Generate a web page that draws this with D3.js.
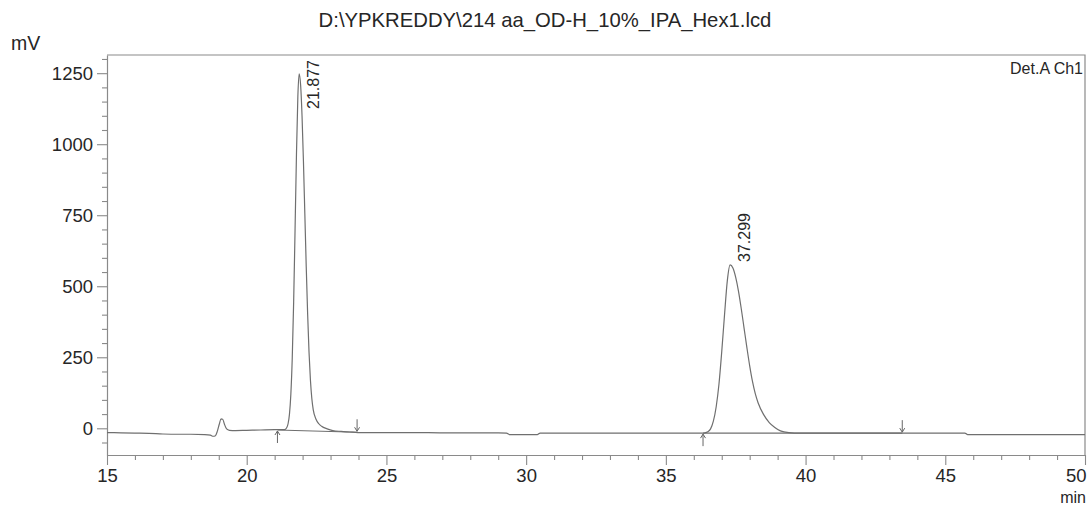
<!DOCTYPE html>
<html>
<head>
<meta charset="utf-8">
<script src="https://cdn.jsdelivr.net/npm/d3@7/dist/d3.min.js"></script>
<style>
  html, body { margin: 0; padding: 0; background: #fff; }
  svg { display: block; font-family: "Liberation Sans", Arial, sans-serif; }
</style>
</head>
<body>
<svg id="chart" width="1088" height="508"></svg>
<script>
// Chromatogram trace: retention time (min) and detector signal (mV)
const timeMin = [
  15.0, 15.5, 16.0, 16.5, 17.0, 17.5, 18.0, 18.5, 18.7, 18.8, 18.88, 18.95,
  19.02, 19.08, 19.14, 19.2, 19.28, 19.38, 19.6, 20.0, 20.5, 21.0, 21.35,
  21.43, 21.48, 21.53, 21.58, 21.63, 21.68, 21.73, 21.78, 21.83, 21.877,
  21.93, 21.98, 22.03, 22.08, 22.13, 22.18, 22.23, 22.28, 22.33, 22.38,
  22.48, 22.58, 22.68, 22.88, 23.08, 23.38, 23.68, 23.98, 24.5, 25.0, 26.0,
  27.0, 28.0, 29.0, 29.3, 29.4, 30.4, 30.5, 31.0, 32.0, 33.0, 34.0, 35.0,
  36.0, 36.3, 36.4, 36.5, 36.6, 36.7, 36.8, 36.9, 37.0, 37.1, 37.2, 37.299,
  37.4, 37.5, 37.6, 37.7, 37.8, 37.9, 38.0, 38.1, 38.2, 38.3, 38.5, 38.7,
  38.9, 39.1, 39.4, 39.8, 41.0, 43.0, 45.0, 45.7, 45.8, 50.0
];
const signalMv = [
  -15, -16, -17, -18, -20, -21, -21, -22, -24, -28, -26, -10,
  15, 33, 32, 15, -2, -7, -8, -7, -6, -5, -5,
  2, 16, 50, 121, 248, 445, 698, 962, 1168, 1248,
  1207, 1099, 940, 755, 569, 403, 268, 170, 105, 66,
  32, 16, 7, -2, -8, -11, -13, -15, -15, -15, -15,
  -16, -16, -16, -17, -22, -22, -17, -17, -17, -17, -17, -17,
  -17, -17, -16, -12, -2, 25, 75, 155, 270, 400, 520, 575,
  564, 531, 482, 420, 352, 284, 220, 165, 122, 90, 48, 20,
  3, -9, -15, -17, -17, -17, -17, -17, -22, -22
];

// Labelled peaks
const peakTimes = [21.877, 37.299];
const peakHeights = [1248, 575];
const peakLabels = ["21.877", "37.299"];

// Integration baselines (start/end time and level) and their event arrows
const baseStartTime = [21.1, 36.33];
const baseStartMv = [-6, -17];
const baseEndTime = [23.95, 43.46];
const baseEndMv = [-14, -17];

// Axis ticks
const xMajorTicks = [15, 20, 25, 30, 35, 40, 45, 50];
const xMinorTicks = d3.range(16, 50, 1).filter(v => v % 5 !== 0);
const yMajorTicks = [0, 250, 500, 750, 1000, 1250];
const yMinorTicks = d3.range(-50, 1301, 50).filter(v => v % 250 !== 0);

const titleText = "D:\\YPKREDDY\\214 aa_OD-H_10%_IPA_Hex1.lcd";
const channelText = "Det.A Ch1";

const svg = d3.select("#chart");
const plotLeft = 107, plotRight = 1085, plotTop = 55, plotBottom = 455;
const frameColor = "#8a8a8a";
const traceColor = "#6f6f6f";
const textColor = "#262626";

const x = d3.scaleLinear().domain([15, 50]).range([plotLeft, plotRight]);
const y = d3.scaleLinear().domain([-94, 1314]).range([plotBottom, plotTop]);

// Frame: top and right edges
svg.append("path")
  .attr("d", `M${plotLeft},${plotTop}H${plotRight}V${plotBottom}`)
  .attr("fill", "none").attr("stroke", frameColor).attr("stroke-width", 1.2);

function styleAxis(g) {
  g.selectAll("path.domain").attr("stroke", frameColor).attr("stroke-width", 1.2);
  g.selectAll(".tick line").attr("stroke", frameColor).attr("stroke-width", 1.1);
  g.selectAll("text").attr("fill", textColor)
    .style("font-family", "'Liberation Sans', Arial, sans-serif");
}

// Y axis
const yMinor = svg.append("g").attr("transform", `translate(${plotLeft},0)`)
  .call(d3.axisLeft(y).tickValues(yMinorTicks).tickSize(5).tickSizeOuter(0).tickFormat(""));
yMinor.select("path.domain").remove();
styleAxis(yMinor);
const yAxis = svg.append("g").attr("transform", `translate(${plotLeft},0)`)
  .call(d3.axisLeft(y).tickValues(yMajorTicks).tickSize(10).tickSizeOuter(0)
    .tickPadding(4).tickFormat(d3.format("d")));
yAxis.selectAll("text").style("font-size", "18.5px");
styleAxis(yAxis);

// X axis
const xMinor = svg.append("g").attr("transform", `translate(0,${plotBottom})`)
  .call(d3.axisBottom(x).tickValues(xMinorTicks).tickSize(5).tickSizeOuter(0).tickFormat(""));
xMinor.select("path.domain").remove();
styleAxis(xMinor);
const xAxis = svg.append("g").attr("transform", `translate(0,${plotBottom})`)
  .call(d3.axisBottom(x).tickValues(xMajorTicks).tickSize(10).tickSizeOuter(0)
    .tickPadding(4).tickFormat(d3.format("d")));
xAxis.selectAll("text").style("font-size", "18.5px");
// last label sits flush against the right edge
xAxis.selectAll(".tick").filter(d => d === 50).select("text")
  .attr("text-anchor", "end").attr("x", 1);
styleAxis(xAxis);

// Trace
const trace = timeMin.map((t, i) => [t, signalMv[i]]);
svg.append("path")
  .datum(trace)
  .attr("fill", "none")
  .attr("stroke", traceColor)
  .attr("stroke-width", 1.2)
  .attr("d", d3.line().x(d => x(d[0])).y(d => y(d[1])).curve(d3.curveMonotoneX));

// Integration baselines
baseStartTime.forEach((t0, i) => {
  svg.append("line")
    .attr("x1", x(t0)).attr("y1", y(baseStartMv[i]))
    .attr("x2", x(baseEndTime[i])).attr("y2", y(baseEndMv[i]))
    .attr("stroke", traceColor).attr("stroke-width", 1.1);
});

// Event arrows: start arrows point up from below, end arrows point down from above
function arrow(px, py, dir) {
  const len = 12, head = 2.5;
  const y0 = dir === "up" ? py + len : py - len;
  svg.append("line").attr("x1", px).attr("y1", y0).attr("x2", px).attr("y2", py)
    .attr("stroke", "#666").attr("stroke-width", 1);
  const s = dir === "up" ? 1 : -1;
  svg.append("path")
    .attr("d", `M${px - head},${py + s * 4}L${px},${py}L${px + head},${py + s * 4}`)
    .attr("fill", "none").attr("stroke", "#666").attr("stroke-width", 1);
}
baseStartTime.forEach((t, i) => arrow(x(t), y(baseStartMv[i]) + 1, "up"));
baseEndTime.forEach((t, i) => arrow(x(t), y(baseEndMv[i]) - 1, "down"));

// Peak retention time labels, rotated, kept inside the frame
peakTimes.forEach((t, i) => {
  const px = x(t) + 20, py = y(peakHeights[i]) - 3;
  const txt = svg.append("text")
    .attr("fill", textColor)
    .style("font-size", "16px")
    .text(peakLabels[i]);
  const len = txt.node().getComputedTextLength();
  const startY = Math.max(py, plotTop + 5 + len);
  txt.attr("transform", `translate(${px},${startY}) rotate(-90)`);
});

// Titles and units
svg.append("text").attr("x", 545).attr("y", 27).attr("text-anchor", "middle")
  .attr("fill", textColor).style("font-size", "20.3px").text(titleText);
svg.append("text").attr("x", 11).attr("y", 50)
  .attr("fill", textColor).style("font-size", "19.5px").text("mV");
svg.append("text").attr("x", 1083).attr("y", 74).attr("text-anchor", "end")
  .attr("fill", textColor).style("font-size", "16px").text(channelText);
svg.append("text").attr("x", 1086).attr("y", 503).attr("text-anchor", "end")
  .attr("fill", textColor).style("font-size", "16px").text("min");
</script>
</body>
</html>
